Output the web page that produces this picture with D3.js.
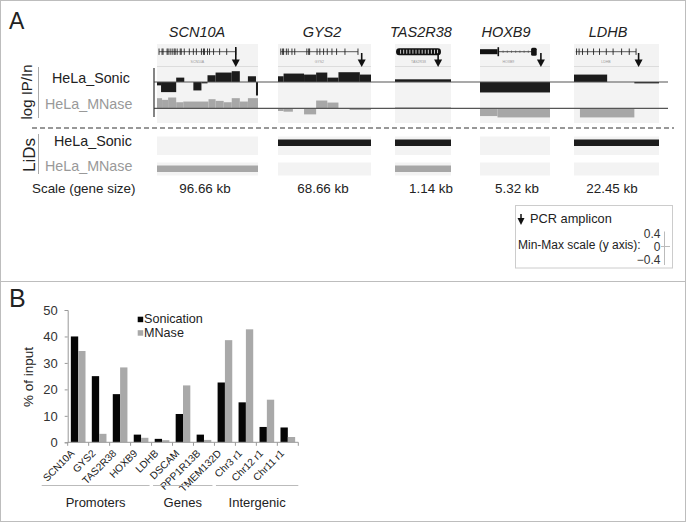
<!DOCTYPE html>
<html><head><meta charset="utf-8">
<script src="https://cdn.jsdelivr.net/npm/d3@7"></script>
<style>body{margin:0;background:#fff} svg{display:block;font-family:"Liberation Sans",Arial,sans-serif}</style>
</head><body><svg id="c" width="686" height="522"></svg>
<script>
// ---------------- DATA ----------------
// Panel A: genes, sizes, tracks (segments: [start%, end%, log IP/In])
const genes = ["SCN10A","GYS2","TAS2R38","HOXB9","LDHB"];
const geneSizes = ["96.66 kb","68.66 kb","1.14 kb","5.32 kb","22.45 kb"];
const sonicSignal = [
  [[0,4,-0.1],[4,19,-0.3],[19,27,0.13],[27,36,0],[36,44,-0.25],[44,50,-0.04],[50,58,0.2],[58,74,0.28],[74,82,0.32],[82,90,0],[90,98,0.17],[98,100,-0.4]],
  [[0,6,0.17],[6,28,0.25],[28,41,0.22],[41,53,0.28],[53,65,0.13],[65,88,0.29],[88,100,0.22]],
  [[0,100,0.08]],
  [[0,100,-0.31]],
  [[0,39,0.22],[39,71,0],[71,100,-0.04]]
];
const mnaseSignal = [
  [[0,5,0.3],[5,11,0.25],[11,19,0.32],[19,26,0.18],[26,51,0.2],[51,58,0.27],[58,66,0.22],[66,74,0.18],[74,82,0.3],[82,90,0.2],[90,100,0.3]],
  [[0,6,-0.08],[6,16,-0.1],[16,28,0],[28,41,-0.18],[41,53,0.23],[53,65,0.17],[65,77,0],[77,100,-0.05]],
  [[0,100,0.03]],
  [[0,25,-0.23],[25,100,-0.27]],
  [[0,7,0],[7,71,-0.27],[71,100,0]]
];
const lidsSonic = [0,1,1,0,1];
const lidsMNase = [1,0,1,0,0];
const ampliconPos = [78,90,77,87,76];           // % of gene window
const geneSpan = [[2,78],[3,86],[2,82],[0,81],[2,73]]; // % of gene window
const exonPos = [
  [2,5,6,10,11,13,15,17,18,20,23,24,27,32,36,39,44,46,47,50,52,56,62,69,78],
  [3,5,6,9,11,15,18,31,33,34,42,45,49,53,58,63,72,86],
  [],
  [],
  [3,6,10,16,23,30,38,46,56,65,73]
];
const scaleTicks = [0.4, 0, -0.4];

// Panel B
const categories = ["SCN10A","GYS2","TAS2R38","HOXB9","LDHB","DSCAM","PPP1R13B","TMEM132D","Chr3 r1","Chr12 r1","Chr11 r1"];
const sonication = [40, 25, 18.2, 2.9, 1.3, 10.7, 2.9, 22.6, 15.1, 5.8, 5.6];
const mnase      = [34.5, 3.2, 28.3, 1.7, 0.8, 21.5, 0.9, 38.6, 42.7, 16.1, 2.0];
const seriesNames = ["Sonication","MNase"];
const groupNames = ["Promoters","Genes","Intergenic"];
const groupStart = [0,4,7];
const groupEnd   = [3,6,10];
const yTicks = [0,10,20,30,40,50];

// ---------------- LAYOUT ----------------
const svg = d3.select("#c");
const W = 686, H = 522;
const boxX = [[157,258],[278,371],[395,451],[480,550],[574,659]];
const nameX = [197,322,421,506,608];
const sizeX = [205,323,431,517,612];
const sonicBase = 82, mnaseBase = 108.3;
const C_BLACK = "#1c1c1c", C_GRAY = "#a7a7a7", C_BG = "#f3f3f3";

// frame
svg.append("rect").attr("x",0.5).attr("y",0.5).attr("width",W-1).attr("height",H-1)
  .attr("fill","none").attr("stroke","#bdbdbd");
svg.append("line").attr("x1",0).attr("x2",W).attr("y1",281.5).attr("y2",281.5).attr("stroke","#bdbdbd");

// ---------- Panel A ----------
const A = svg.append("g");
A.append("text").attr("x",9).attr("y",28.5).attr("font-size",23).attr("fill","#222").text("A");

// backgrounds
genes.forEach((g,i)=>{
  const [x0,x1] = boxX[i];
  A.append("rect").attr("x",x0).attr("y",44).attr("width",x1-x0).attr("height",79).attr("fill",C_BG);
  A.append("line").attr("x1",x0).attr("x2",x1).attr("y1",66.5).attr("y2",66.5).attr("stroke","#dcdcdc");
  A.append("rect").attr("x",x0).attr("y",136.5).attr("width",x1-x0).attr("height",18.5).attr("fill",C_BG);
  A.append("rect").attr("x",x0).attr("y",162.5).attr("width",x1-x0).attr("height",13).attr("fill",C_BG);
});

// gene names
genes.forEach((g,i)=>{
  A.append("text").attr("x",nameX[i]).attr("y",37).attr("text-anchor","middle")
   .attr("font-size",14.5).attr("font-style","italic").attr("fill","#222").text(g);
});

// gene models
const yModel = 51.7;
genes.forEach((g,i)=>{
  const [x0,x1] = boxX[i];
  const gx = d3.scaleLinear().domain([0,100]).range([x0,x1]);
  const gm = A.append("g");
  const [s,e] = geneSpan[i];
  if (g === "TAS2R38") {
    gm.append("rect").attr("x",gx(s)).attr("y",yModel-3.5).attr("width",gx(e)-gx(s)).attr("height",7)
      .attr("rx",3).attr("fill","#111");
    d3.range(s+8,e-4,5.5).forEach(p=>{
      gm.append("line").attr("x1",gx(p)).attr("x2",gx(p)).attr("y1",yModel-2).attr("y2",yModel+2)
        .attr("stroke","#fff").attr("stroke-width",0.8);
    });
  } else if (g === "HOXB9") {
    gm.append("line").attr("x1",gx(26)).attr("x2",gx(75)).attr("y1",yModel).attr("y2",yModel).attr("stroke","#222").attr("stroke-width",0.8);
    d3.range(33,73,6).forEach(p=>{
      gm.append("line").attr("x1",gx(p)).attr("x2",gx(p)).attr("y1",yModel-1.2).attr("y2",yModel+1.2).attr("stroke","#444").attr("stroke-width",0.6);
    });
    gm.append("rect").attr("x",gx(0)).attr("y",yModel-2.5).attr("width",gx(25)-gx(0)).attr("height",5).attr("fill","#111");
    gm.append("rect").attr("x",gx(25)).attr("y",yModel-4.5).attr("width",1.6).attr("height",9).attr("fill","#111");
    gm.append("rect").attr("x",gx(73)).attr("y",yModel-4).attr("width",gx(81)-gx(73)).attr("height",8).attr("rx",1.5).attr("fill","#111");
  } else {
    gm.append("line").attr("x1",gx(s)).attr("x2",gx(e)).attr("y1",yModel).attr("y2",yModel).attr("stroke","#333").attr("stroke-width",0.8);
    exonPos[i].forEach(p=>{
      gm.append("line").attr("x1",gx(p)).attr("x2",gx(p)).attr("y1",yModel-3.2).attr("y2",yModel+3.2)
        .attr("stroke","#222").attr("stroke-width",0.9);
    });
  }
  gm.append("text").attr("x",(gx(s)+gx(e))/2).attr("y",62.5).attr("text-anchor","middle")
    .attr("font-size",3.5).attr("fill","#999").text(g);
  // amplicon arrow
  const ax = gx(ampliconPos[i]);
  gm.append("line").attr("x1",ax).attr("x2",ax).attr("y1",g==="SCN10A"?47:53).attr("y2",61).attr("stroke","#111").attr("stroke-width",1.6);
  gm.append("path").attr("d",`M${ax-4},${59.5}L${ax+4},${59.5}L${ax},${67}Z`).attr("fill","#111");
});

// signal tracks
const ySonic = d3.scaleLinear().domain([-0.4,0.4]).range([sonicBase+13.5, sonicBase-13.5]);
const yMNase = d3.scaleLinear().domain([-0.4,0.4]).range([mnaseBase+13.5, mnaseBase-13.5]);
function drawTrack(data, ys, color){
  genes.forEach((g,i)=>{
    const gx = d3.scaleLinear().domain([0,100]).range(boxX[i]);
    A.append("g").selectAll("rect").data(data[i]).join("rect")
      .attr("x",d=>gx(d[0])).attr("width",d=>gx(d[1])-gx(d[0]))
      .attr("y",d=>ys(Math.max(0,d[2])))
      .attr("height",d=>Math.max(0.001,Math.abs(ys(d[2])-ys(0))))
      .attr("fill",color);
  });
}
drawTrack(sonicSignal, ySonic, C_BLACK);
drawTrack(mnaseSignal, yMNase, C_GRAY);
// baselines & axis
[sonicBase, mnaseBase].forEach(b=>{
  A.append("line").attr("x1",154).attr("x2",668).attr("y1",b).attr("y2",b).attr("stroke","#555").attr("stroke-width",1.2);
});
A.append("line").attr("x1",154).attr("x2",154).attr("y1",68).attr("y2",117).attr("stroke","#333").attr("stroke-width",1.2);

// LiDs bars
genes.forEach((g,i)=>{
  const [x0,x1] = boxX[i];
  if (lidsSonic[i]) A.append("rect").attr("x",x0).attr("y",139.5).attr("width",x1-x0).attr("height",6.5).attr("fill",C_BLACK);
  if (lidsMNase[i]) A.append("rect").attr("x",x0).attr("y",165.5).attr("width",x1-x0).attr("height",6.5).attr("fill",C_GRAY);
});

// dashed separator
A.append("line").attr("x1",32).attr("x2",674).attr("y1",128).attr("y2",128)
  .attr("stroke","#333").attr("stroke-width",1.2).attr("stroke-dasharray","5,3");

// row labels
A.append("line").attr("x1",38.5).attr("x2",38.5).attr("y1",67).attr("y2",118).attr("stroke","#aaa");
A.append("line").attr("x1",38.5).attr("x2",38.5).attr("y1",134).attr("y2",174).attr("stroke","#aaa");
A.append("text").attr("transform","translate(32,92) rotate(-90)").attr("text-anchor","middle")
  .attr("font-size",15).attr("fill","#222").text("log IP/In");
A.append("text").attr("transform","translate(35,155) rotate(-90)").attr("text-anchor","middle")
  .attr("font-size",17).attr("fill","#222").text("LiDs");
const rowLbl = [[52,82.5,"HeLa_Sonic","#222"],[45,109.3,"HeLa_MNase","#999"],[54,146.3,"HeLa_Sonic","#222"],[45,171.3,"HeLa_MNase","#999"]];
rowLbl.forEach(r=>A.append("text").attr("x",r[0]).attr("y",r[1]).attr("font-size",14.3).attr("fill",r[3]).text(r[2]));

// scale row
A.append("text").attr("x",32).attr("y",192.7).attr("font-size",13.4).attr("fill","#222").text("Scale (gene size)");
geneSizes.forEach((s,i)=>A.append("text").attr("x",sizeX[i]).attr("y",192.7).attr("text-anchor","middle")
  .attr("font-size",13.4).attr("fill","#222").text(s));

// legend box
const L = A.append("g");
L.append("rect").attr("x",515.5).attr("y",205.5).attr("width",157).attr("height",62.5).attr("fill","#fff").attr("stroke","#ccc");
L.append("line").attr("x1",521).attr("x2",521).attr("y1",214).attr("y2",219).attr("stroke","#111").attr("stroke-width",1.5);
L.append("path").attr("d","M517.5,218L524.5,218L521,225Z").attr("fill","#111");
L.append("text").attr("x",530).attr("y",223.3).attr("font-size",12.8).attr("fill","#222").text("PCR amplicon");
L.append("text").attr("x",518).attr("y",249.3).attr("font-size",12).attr("fill","#222").text("Min-Max scale (y axis):");
const ls = d3.scaleLinear().domain([-0.4,0.4]).range([259.5,233.5]);
scaleTicks.forEach(t=>L.append("text").attr("x",660.5).attr("y",ls(t)+4).attr("text-anchor","end")
  .attr("font-size",12).attr("fill","#333").text(t===0?"0":d3.format(".1f")(t)));
L.append("line").attr("x1",664.5).attr("x2",664.5).attr("y1",231.5).attr("y2",265).attr("stroke","#bbb");
L.append("line").attr("x1",661).attr("x2",670).attr("y1",ls(0)).attr("y2",ls(0)).attr("stroke","#bbb");

// ---------- Panel B ----------
const B = svg.append("g");
B.append("text").attr("x",9).attr("y",307).attr("font-size",25).attr("fill","#222").text("B");

const x = d3.scaleBand().domain(categories).range([67.7,298.3]).paddingInner(0).paddingOuter(0);
const xs = d3.scaleBand().domain(seriesNames).range([0,x.bandwidth()]).paddingInner(0).paddingOuter(0.43);
const y = d3.scaleLinear().domain([0,50]).range([442.3,310]);

const seriesVals = [sonication, mnase];
const seriesCol = ["#050505","#a9a9a9"];
seriesNames.forEach((s,si)=>{
  B.append("g").selectAll("rect").data(categories).join("rect")
    .attr("x",c=>x(c)+xs(s)).attr("width",xs.bandwidth())
    .attr("y",(c,i)=>y(seriesVals[si][i]))
    .attr("height",(c,i)=>y(0)-y(seriesVals[si][i]))
    .attr("fill",seriesCol[si]);
});

// y axis
const yAx = B.append("g").attr("transform","translate(67.7,0)")
  .call(d3.axisLeft(y).tickValues(yTicks).tickSize(3).tickPadding(7));
yAx.select(".domain").attr("stroke","#999");
yAx.selectAll(".tick line").attr("stroke","#999");
yAx.selectAll("text").attr("font-size",13).attr("fill","#333").attr("font-family","Liberation Sans,Arial,sans-serif");

// x axis
B.append("line").attr("x1",67.7).attr("x2",298.3).attr("y1",y(0)).attr("y2",y(0)).attr("stroke","#999");
d3.range(categories.length+1).forEach(k=>{
  const xx = 67.7 + k*x.step();
  B.append("line").attr("x1",xx).attr("x2",xx).attr("y1",y(0)).attr("y2",y(0)+3.5).attr("stroke","#999");
});
categories.forEach(c=>{
  B.append("text").attr("transform",`translate(${x(c)+x.bandwidth()/2-3},${454}) rotate(-45)`)
    .attr("text-anchor","end").attr("font-size",10.2).attr("fill","#222").text(c);
});

// y title
B.append("text").attr("transform","translate(33,377) rotate(-90)").attr("text-anchor","middle")
  .attr("font-size",13.5).attr("fill","#222").text("% of input");

// legend
seriesNames.forEach((s,si)=>{
  B.append("rect").attr("x",137.7).attr("y",316.7+si*13.5).attr("width",5.5).attr("height",5.5).attr("fill",seriesCol[si]);
  B.append("text").attr("x",144).attr("y",323.3+si*13.5).attr("font-size",12.6).attr("fill","#222").text(s);
});

// groups
groupNames.forEach((gname,gi)=>{
  const xa = gi===0 ? 41.7 : x(categories[groupStart[gi]]) + 1.5;
  const xb = x(categories[groupEnd[gi]]) + x.bandwidth() - (gi===groupNames.length-1 ? 0 : 2);
  B.append("line").attr("x1",xa).attr("x2",xb).attr("y1",485.5).attr("y2",485.5).attr("stroke","#bbb");
  B.append("text").attr("x",(xa+xb)/2).attr("y",507).attr("text-anchor","middle")
    .attr("font-size",13).attr("fill","#222").text(gname);
});
</script></body></html>
